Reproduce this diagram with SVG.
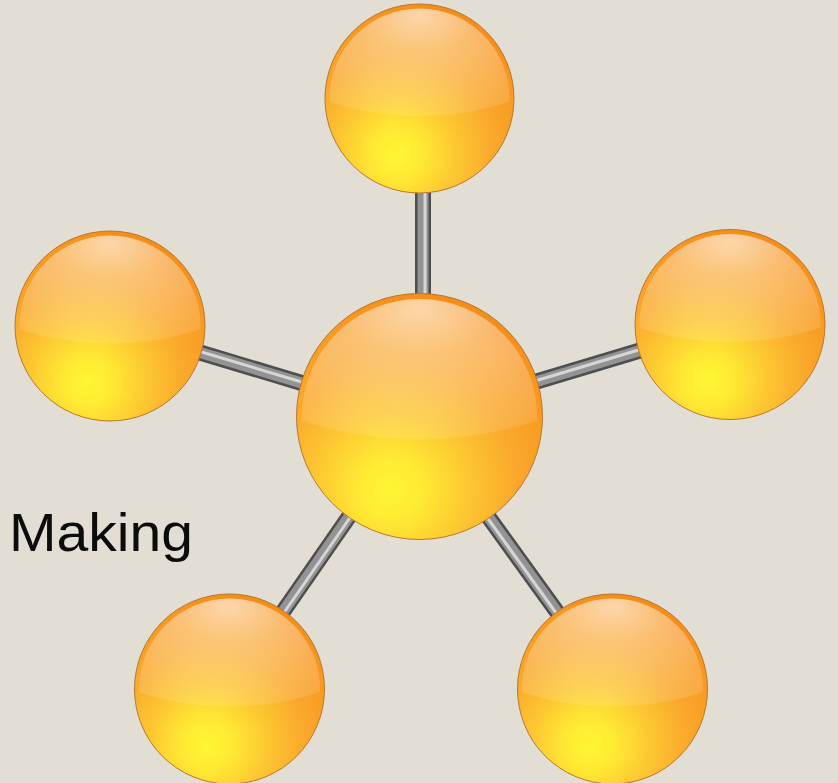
<svg xmlns="http://www.w3.org/2000/svg" width="838" height="783" viewBox="0 0 838 783">
  <style>
    .rod-outer { stroke: #4e4e4e; stroke-width: 16; stroke-linecap: butt; }
    .rod-mid { stroke: #939393; stroke-width: 11; stroke-linecap: butt; }
    .rod-hi { stroke: #d6d6d6; stroke-width: 3; stroke-linecap: butt; }
    .ball { fill: url(#ballBody); stroke: #b9772c; stroke-width: 1; }
    .gloss { fill: url(#ballGloss); }
    .label { font-family: "Liberation Sans", Arial, sans-serif; font-size: 54px; fill: #0c0c0c; }
  </style>
  <defs>
    <radialGradient id="ballBody" cx="0.4" cy="0.77" r="0.8" fx="0.38" fy="0.8">
      <stop offset="0" stop-color="#fff634"/>
      <stop offset="0.16" stop-color="#ffea33"/>
      <stop offset="0.38" stop-color="#fdc832"/>
      <stop offset="0.62" stop-color="#faa92c"/>
      <stop offset="0.88" stop-color="#f8961f"/>
      <stop offset="1" stop-color="#f38a17"/>
    </radialGradient>
    <!-- wide elliptical highlight, cut off with a curved lower edge -->
    <radialGradient id="ballGloss" cx="0.5" cy="0.04" r="0.56" gradientTransform="translate(0.5 0) scale(1.75 1) translate(-0.5 0)">
      <stop offset="0" stop-color="#ffffff" stop-opacity="0.62"/>
      <stop offset="0.35" stop-color="#ffffff" stop-opacity="0.36"/>
      <stop offset="0.75" stop-color="#ffffff" stop-opacity="0.2"/>
      <stop offset="0.985" stop-color="#ffffff" stop-opacity="0.12"/>
      <stop offset="1" stop-color="#ffffff" stop-opacity="0"/>
    </radialGradient>
  </defs>

  <rect width="838" height="783" fill="#e3ded4"/>

  <g id="connectors">
    <g id="rod-top">
      <line class="rod-outer" x1="423" y1="185" x2="423" y2="300"/>
      <line class="rod-mid" x1="423" y1="185" x2="423" y2="300"/>
      <line class="rod-hi" x1="425" y1="185" x2="425" y2="300"/>
    </g>
    <g id="rod-left">
      <line class="rod-outer" x1="195" y1="351" x2="305" y2="384"/>
      <line class="rod-mid" x1="195" y1="351" x2="305" y2="384"/>
      <line class="rod-hi" x1="195" y1="350" x2="305" y2="383"/>
    </g>
    <g id="rod-right">
      <line class="rod-outer" x1="645" y1="349" x2="535" y2="382"/>
      <line class="rod-mid" x1="645" y1="349" x2="535" y2="382"/>
      <line class="rod-hi" x1="645" y1="348" x2="535" y2="381"/>
    </g>
    <g id="rod-bottom-left">
      <line class="rod-outer" x1="355" y1="508" x2="280" y2="616"/>
      <line class="rod-mid" x1="355" y1="508" x2="280" y2="616"/>
      <line class="rod-hi" x1="356" y1="509" x2="281" y2="617"/>
    </g>
    <g id="rod-bottom-right">
      <line class="rod-outer" x1="482" y1="508" x2="560" y2="616"/>
      <line class="rod-mid" x1="482" y1="508" x2="560" y2="616"/>
      <line class="rod-hi" x1="481" y1="509" x2="559" y2="617"/>
    </g>
  </g>

  <!-- glossy spheres: body circle plus a highlight disc just inside the rim -->
  <g id="node-top">
    <circle class="ball" cx="419.5" cy="98.5" r="94.5"/>
    <circle class="gloss" cx="419.5" cy="98.5" r="90"/>
  </g>
  <g id="node-left">
    <circle class="ball" cx="110" cy="326" r="95"/>
    <circle class="gloss" cx="110" cy="326" r="90.5"/>
  </g>
  <g id="node-right">
    <circle class="ball" cx="730" cy="324.5" r="95"/>
    <circle class="gloss" cx="730" cy="324.5" r="90.5"/>
  </g>
  <g id="node-bottom-left">
    <circle class="ball" cx="229.5" cy="689" r="95"/>
    <circle class="gloss" cx="229.5" cy="689" r="90.5"/>
  </g>
  <g id="node-bottom-right">
    <circle class="ball" cx="612.5" cy="689" r="95"/>
    <circle class="gloss" cx="612.5" cy="689" r="90.5"/>
  </g>
  <g id="node-center">
    <circle class="ball" cx="419.5" cy="416.5" r="123"/>
    <circle class="gloss" cx="419.5" cy="416.5" r="117.5"/>
  </g>

  <text class="label" x="9" y="551" textLength="184" lengthAdjust="spacingAndGlyphs">Making</text>
</svg>
